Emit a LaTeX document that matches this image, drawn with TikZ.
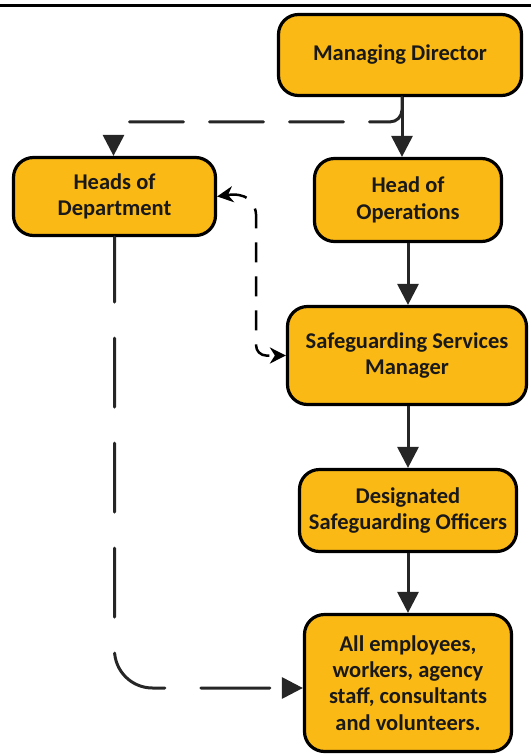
\documentclass[tikz,border=0pt]{standalone}
\usepackage{fontspec}
\setmainfont{Carlito}
\usetikzlibrary{arrows.meta,calc}
\definecolor{boxfill}{RGB}{251,185,22}
\definecolor{linkgray}{RGB}{38,38,38}
\begin{document}
\begin{tikzpicture}[x=1pt,y=-1pt,
  role/.style={draw=black, line width=3.2pt, fill=boxfill, rounded corners=20pt,
    align=center, inner sep=0pt, text=black!90,
    font=\fontsize{22.5}{26.3}\selectfont\bfseries},
  link/.style={draw=linkgray, line width=3pt, -{Triangle[length=21pt,width=21pt]}},
  dlink/.style={link, line cap=round},
  slink/.style={draw=black, line width=2.5pt,
    {Stealth[length=16pt,width=16pt,inset=5pt]}-{Stealth[length=16pt,width=16pt,inset=5pt]},
    dash pattern=on 20pt off 14pt}]
\useasboundingbox (0,0) rectangle (531,756);

% header rule
\coordinate (ruleL) at (0,5.3);
\coordinate (ruleR) at (531,5.3);
\draw[line width=2.7pt] (ruleL) -- (ruleR);

% roles
\node[role, minimum width=243pt, minimum height=81pt] (md)  at (400,55)   {Managing Director};
\node[role, minimum width=202pt, minimum height=78pt] (hod) at (114.5,196.5) {Heads of\\Department};
\node[role, minimum width=187pt, minimum height=83pt] (hoo) at (408,200)  {Head of\\Operations};
\node[role, minimum width=239pt, minimum height=98pt] (ssm) at (407,355.5) {Safeguarding Services\\Manager};
\node[role, minimum width=217pt, minimum height=82pt] (dso) at (408,510.5) {Designated\\Safeguarding Officers};
\node[role, minimum width=207pt, minimum height=137pt] (ae) at (408,683)  {All employees,\\workers, agency\\staff, consultants\\and volunteers.};

% line management chain
\coordinate (split) at ($(md.south)+(2,0)$);
\draw[link] (split) -- (split |- hoo.north);
\draw[link] (hoo.south) -- (hoo.south |- ssm.north);
\draw[link] (ssm.south -| dso.north) -- (dso.north);
\draw[link] (dso.south) -- (ae.north);

% dotted-line reporting
\draw[dlink, rounded corners=12pt, dash pattern=on 54pt off 26pt, dash phase=2pt]
  (split) |- ($(hod.north)+(-1,-34)$) -- ($(hod.north)+(-1,0)$);
\draw[dlink, rounded corners=38pt, dash pattern=on 69pt off 36pt, dash phase=4pt]
  (hod.south) |- ($(ae.west)+(0,5)$);

% two-way link between heads of department and safeguarding manager
\coordinate (hbend) at ($(hod.east)+(39,20)$);
\draw[slink] (hod.east) .. controls +(28,-4) and +(0,-16) .. (hbend)
  [rounded corners=10pt] |- (ssm.west);
\end{tikzpicture}
\end{document}
